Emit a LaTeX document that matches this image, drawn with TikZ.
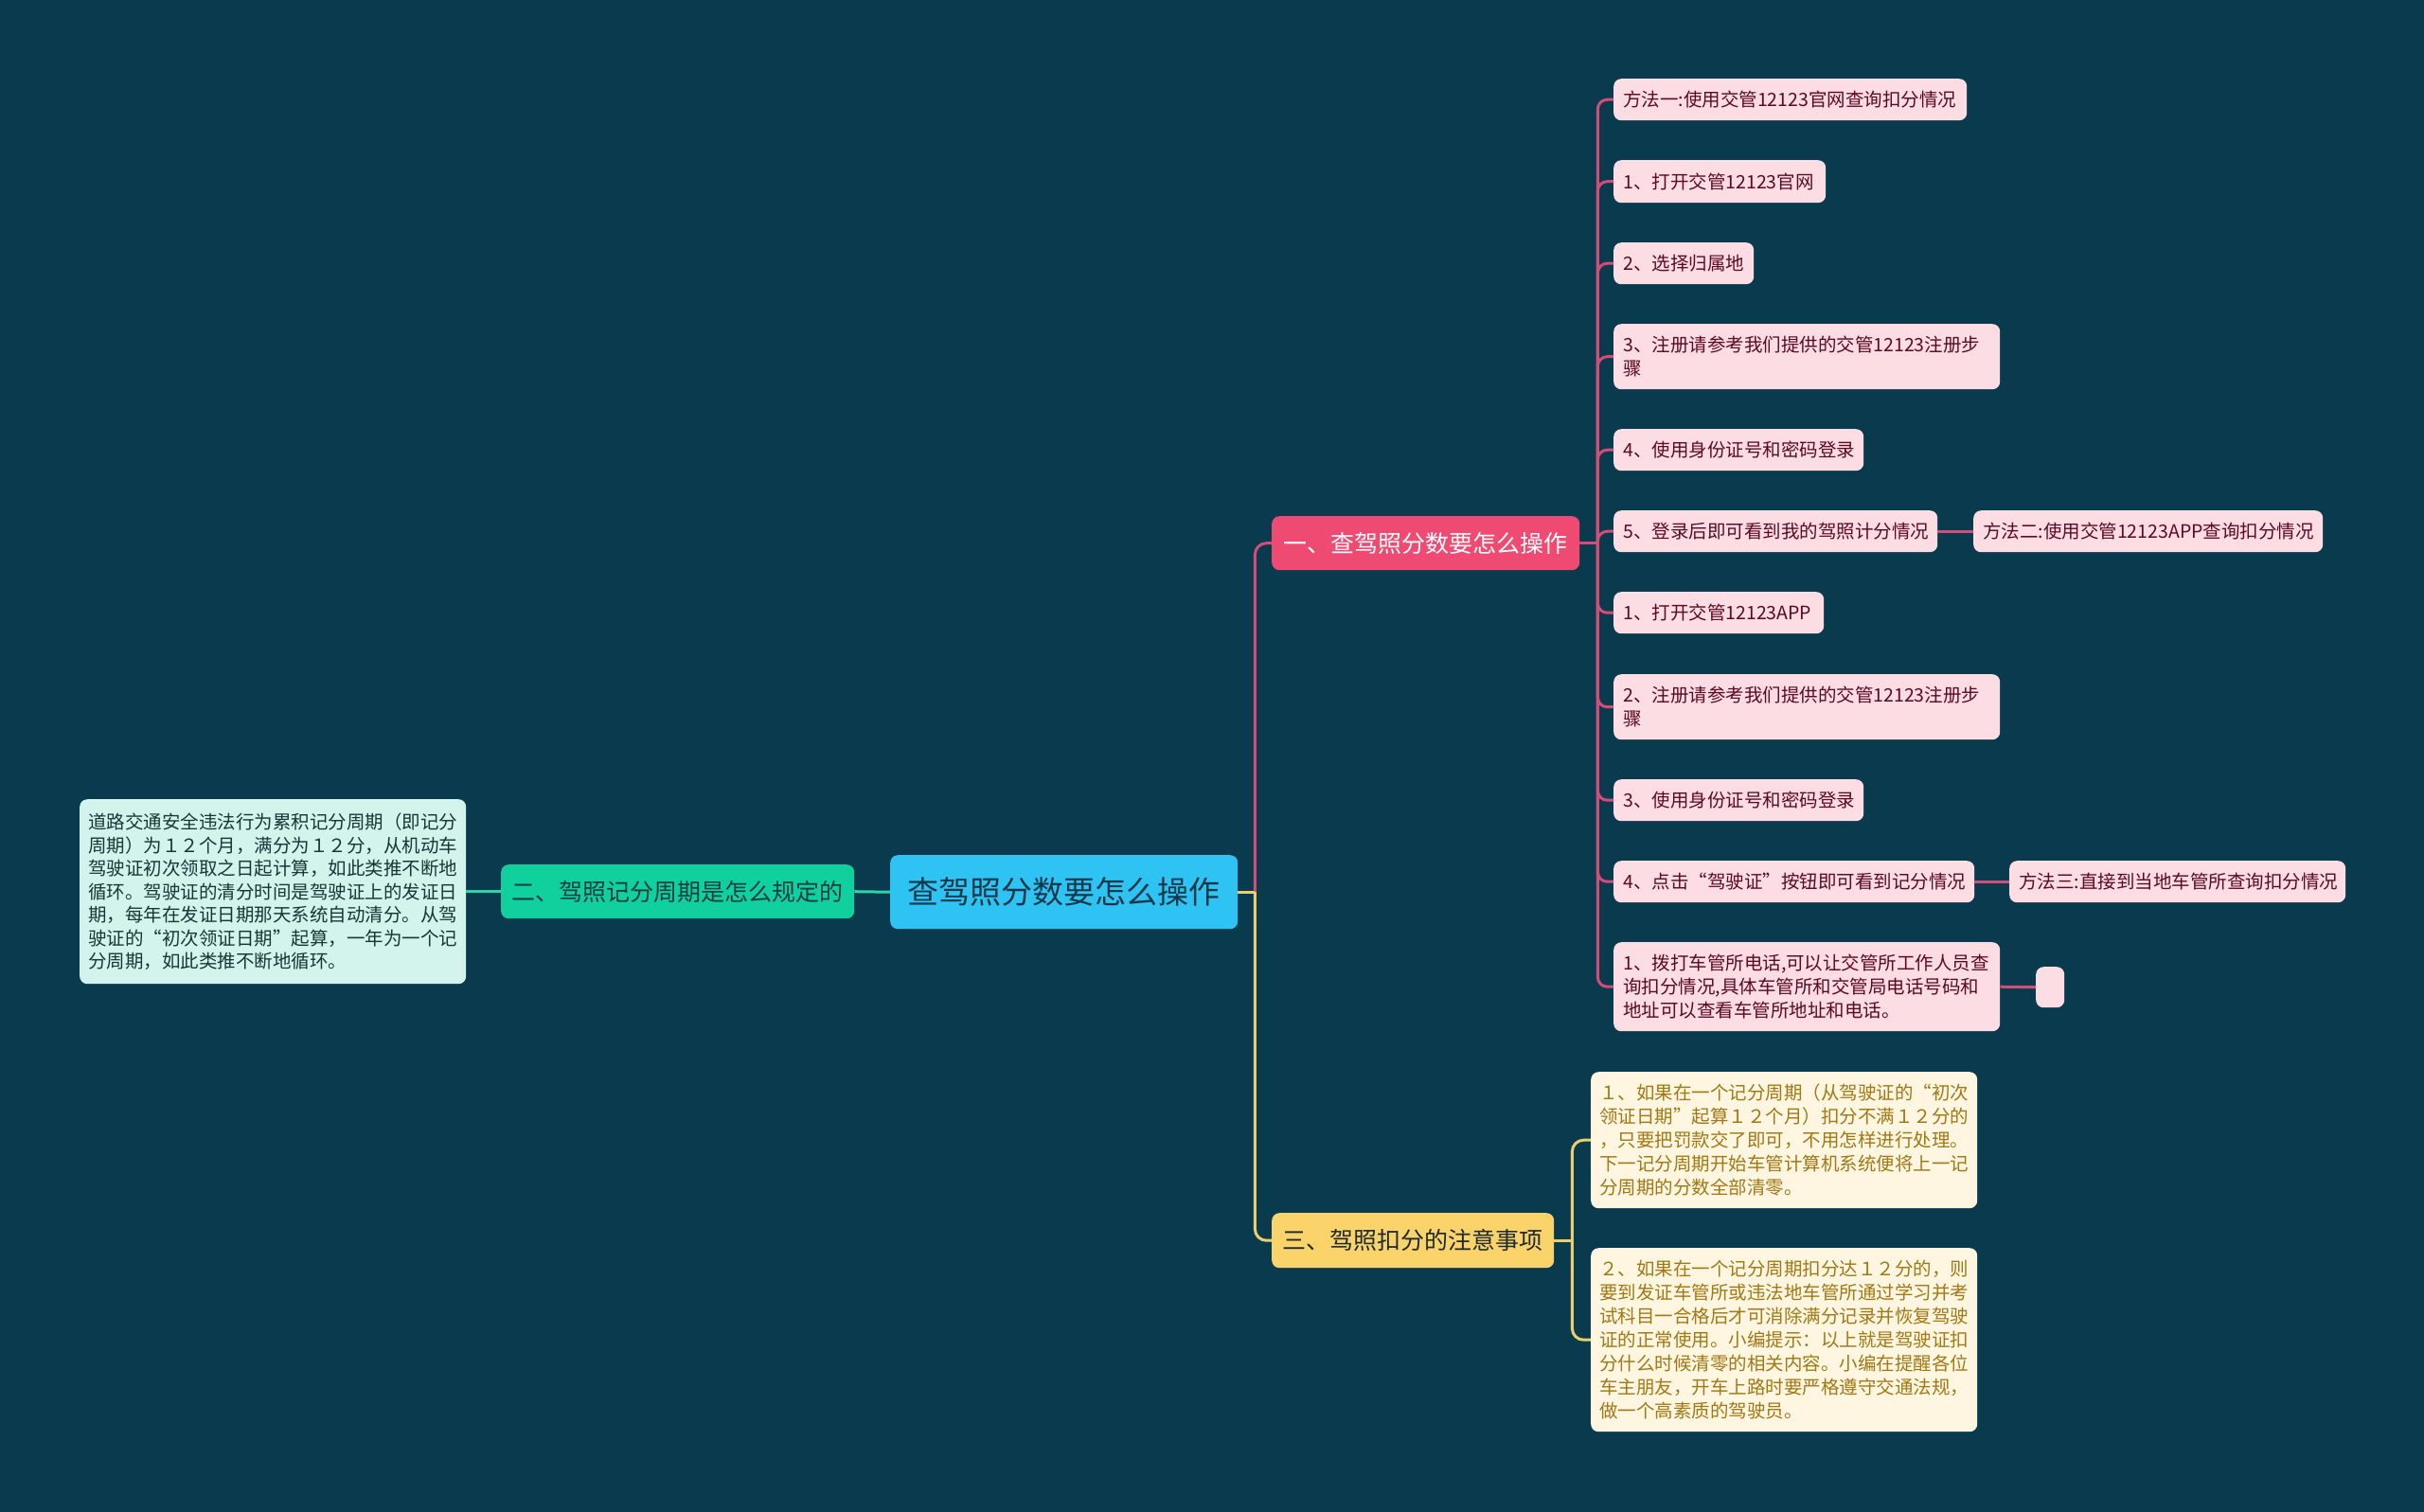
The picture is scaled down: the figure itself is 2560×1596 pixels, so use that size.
\documentclass[tikz,border=0pt]{standalone}
\usepackage{fontspec}
\setmainfont{Noto Sans CJK SC}
\usetikzlibrary{calc}
\definecolor{bgc}{HTML}{093A4E}
\definecolor{cfill}{HTML}{2FC3F3}
\definecolor{ctext}{HTML}{15394A}
\definecolor{pbranch}{HTML}{EE4A72}
\definecolor{pleaffill}{HTML}{FDDDE4}
\definecolor{pleaftext}{HTML}{5C0A22}
\definecolor{pline}{HTML}{D44C78}
\definecolor{gbranch}{HTML}{10D19E}
\definecolor{gtext}{HTML}{0D3D40}
\definecolor{gleaffill}{HTML}{D2F4EC}
\definecolor{gleaftext}{HTML}{173737}
\definecolor{gline}{HTML}{2ED3A8}
\definecolor{ybranch}{HTML}{FBD36B}
\definecolor{ytext}{HTML}{1E2A2E}
\definecolor{yleaffill}{HTML}{FEF6E0}
\definecolor{yleaftext}{HTML}{A27815}
\definecolor{yline}{HTML}{EBCF6E}
\tikzset{
  box/.style={rounded corners=8pt, inner sep=0pt, anchor=north west},
  centernode/.style={box, fill=cfill, text=ctext, align=center, font=\fontsize{33pt}{40pt}\selectfont},
  branchnode/.style={box, align=center, font=\fontsize{25pt}{30pt}\selectfont},
  pleaf/.style={box, fill=pleaffill, text=pleaftext, align=left, font=\fontsize{19.5pt}{25pt}\selectfont},
  gleaf/.style={box, fill=gleaffill, text=gleaftext, align=left, font=\fontsize{19.5pt}{24.5pt}\selectfont},
  yleaf/.style={box, fill=yleaffill, text=yleaftext, align=left, font=\fontsize{19.5pt}{25pt}\selectfont},
  pconn/.style={draw=pline, line width=3pt},
  gconn/.style={draw=gline, line width=3pt},
  yconn/.style={draw=yline, line width=3pt},
}
\begin{document}
\begin{tikzpicture}[x=1pt,y=-1pt]
\useasboundingbox (0,0) rectangle (2560,1596);
\fill[bgc] (-10,-10) rectangle (2570,1606);

% center
\node[centernode, minimum width=367pt, minimum height=78pt] (c) at (940,903) {查驾照分数要怎么操作};

% branches
\node[branchnode, fill=pbranch, text=white, minimum width=325pt, minimum height=57pt] (b1) at (1343,545) {一、查驾照分数要怎么操作};
\node[branchnode, fill=gbranch, text=gtext, minimum width=373pt, minimum height=57pt] (b2) at (529,913) {二、驾照记分周期是怎么规定的};
\node[branchnode, fill=ybranch, text=ytext, minimum width=298pt, minimum height=58pt] (b3) at (1343,1281) {三、驾照扣分的注意事项};

% green leaf
\node[gleaf, minimum width=408pt, minimum height=195pt, text width=390pt] (g1) at (84,844) {道路交通安全违法行为累积记分周期（即记分\\周期）为１２个月，满分为１２分，从机动车\\驾驶证初次领取之日起计算，如此类推不断地\\循环。驾驶证的清分时间是驾驶证上的发证日\\期，每年在发证日期那天系统自动清分。从驾\\驶证的“初次领证日期”起算，一年为一个记\\分周期，如此类推不断地循环。};

% pink leaves
\node[pleaf, minimum width=373pt, minimum height=44pt, text width=353pt] (p1) at (1704,83) {方法一:使用交管12123官网查询扣分情况};
\node[pleaf, minimum width=224pt, minimum height=45pt, text width=204pt] (p2) at (1704,169) {1、打开交管12123官网};
\node[pleaf, minimum width=148pt, minimum height=44pt, text width=128pt] (p3) at (1704,256) {2、选择归属地};
\node[pleaf, minimum width=408pt, minimum height=69pt, text width=388pt] (p4) at (1704,342) {3、注册请参考我们提供的交管12123注册步\\骤};
\node[pleaf, minimum width=264pt, minimum height=44pt, text width=244pt] (p5) at (1704,453) {4、使用身份证号和密码登录};
\node[pleaf, minimum width=342pt, minimum height=44pt, text width=322pt] (p6) at (1704,539) {5、登录后即可看到我的驾照计分情况};
\node[pleaf, minimum width=222pt, minimum height=44pt, text width=202pt] (p7) at (1704,625) {1、打开交管12123APP};
\node[pleaf, minimum width=408pt, minimum height=69pt, text width=388pt] (p8) at (1704,712) {2、注册请参考我们提供的交管12123注册步\\骤};
\node[pleaf, minimum width=264pt, minimum height=44pt, text width=244pt] (p9) at (1704,823) {3、使用身份证号和密码登录};
\node[pleaf, minimum width=381pt, minimum height=44pt, text width=361pt] (p10) at (1704,909) {4、点击“驾驶证”按钮即可看到记分情况};
\node[pleaf, minimum width=408pt, minimum height=94pt, text width=388pt] (p11) at (1704,995) {1、拨打车管所电话,可以让交管所工作人员查\\询扣分情况,具体车管所和交管局电话号码和\\地址可以查看车管所地址和电话。};

\node[pleaf, minimum width=369pt, minimum height=44pt, text width=349pt] (m2) at (2084,539) {方法二:使用交管12123APP查询扣分情况};
\node[pleaf, minimum width=355pt, minimum height=44pt, text width=335pt] (m3) at (2122,909) {方法三:直接到当地车管所查询扣分情况};
\node[pleaf, minimum width=30pt, minimum height=43pt] (e1) at (2150,1021) {};

% yellow leaves
\node[yleaf, minimum width=408pt, minimum height=144pt, text width=390pt] (y1) at (1680,1132) {１、如果在一个记分周期（从驾驶证的“初次\\领证日期”起算１２个月）扣分不满１２分的\\，只要把罚款交了即可，不用怎样进行处理。\\下一记分周期开始车管计算机系统便将上一记\\分周期的分数全部清零。};
\node[yleaf, minimum width=408pt, minimum height=194pt, text width=390pt] (y2) at (1680,1318) {２、如果在一个记分周期扣分达１２分的，则\\要到发证车管所或违法地车管所通过学习并考\\试科目一合格后才可消除满分记录并恢复驾驶\\证的正常使用。小编提示：以上就是驾驶证扣\\分什么时候清零的相关内容。小编在提醒各位\\车主朋友，开车上路时要严格遵守交通法规，\\做一个高素质的驾驶员。};

% connectors
\coordinate (jt) at ($(c.east)+(18,0)$);
\draw[pconn, rounded corners=12pt] (jt) |- (b1.west);
\draw[yconn] (c.east) -- (jt);
\draw[yconn, rounded corners=12pt] (jt) |- (b3.west);

\draw[gconn] (c.west) -- (b2.east);
\draw[gconn] (b2.west) -- (g1.east);

\coordinate (jp) at ($(b1.east)+(19,0)$);
\draw[pconn] (b1.east) -- (jp);
\foreach \n in {p1,p2,p3,p4,p5,p6,p7,p8,p9,p10,p11}
  \draw[pconn, rounded corners=10pt] (jp) |- (\n.west);
\draw[pconn] (p6.east) -- (m2.west);
\draw[pconn] (p10.east) -- (m3.west);
\draw[pconn] (p11.east) -- (e1.west);

\coordinate (jy) at ($(b3.east)+(19,0)$);
\draw[yconn] (b3.east) -- (jy);
\draw[yconn, rounded corners=12pt] (jy) |- (y1.west);
\draw[yconn, rounded corners=12pt] (jy) |- (y2.west);
\end{tikzpicture}
\end{document}
